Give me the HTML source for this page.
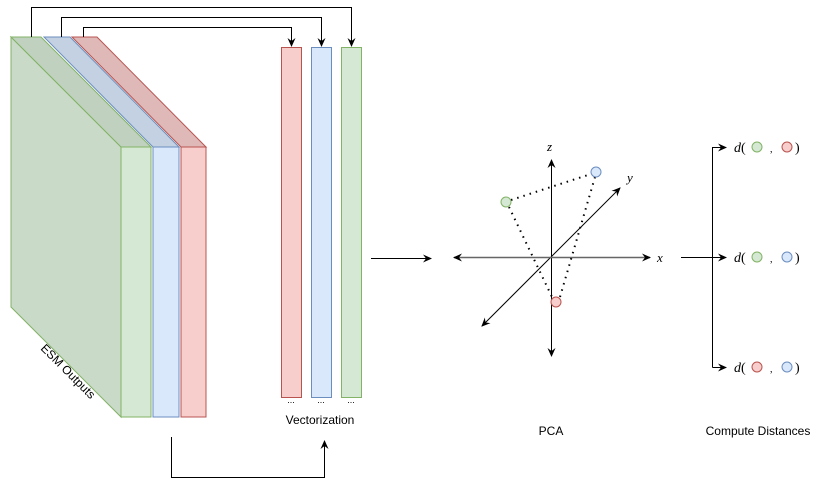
<!DOCTYPE html>
<html><head><style>body{margin:0;background:#fff}svg{display:block}</style></head><body>
<svg width="822" height="486" viewBox="0 0 822 486" xmlns="http://www.w3.org/2000/svg" font-family="Liberation Sans, sans-serif">
<defs><marker id="a" markerWidth="10" markerHeight="10" refX="8" refY="5" orient="auto" markerUnits="userSpaceOnUse"><path d="M0,1 L9,5 L0,9 L3,5 z" fill="#000"/></marker></defs>
<polygon points="72,37 97,37 206,147 181,147" fill="#dfb8b8" stroke="#b85450"/>
<rect x="181" y="147" width="25" height="270" fill="#f8cecc" stroke="#b85450"/>
<polygon points="44,37 70,37 179,147 153,147" fill="#c4d1e2" stroke="#6c8ebf"/>
<rect x="153" y="147" width="26" height="270" fill="#dae8fc" stroke="#6c8ebf"/>
<polygon points="11,37 121,147 121,417 11,307" fill="#c9dac8" stroke="#82b366"/>
<polygon points="11,37 41,37 151,147 121,147" fill="#c0d2bf" stroke="#82b366"/>
<rect x="121" y="147" width="30" height="270" fill="#d5e8d4" stroke="#82b366"/>
<text x="0" y="0" font-size="12" transform="translate(40,349) rotate(45)">ESM Outputs</text>
<rect x="281.5" y="47.5" width="20" height="350" fill="#f8cecc" stroke="#b85450"/>
<rect x="311.5" y="47.5" width="20" height="350" fill="#dae8fc" stroke="#6c8ebf"/>
<rect x="341.5" y="47.5" width="20" height="350" fill="#d5e8d4" stroke="#82b366"/>
<g font-size="9" text-anchor="middle"><text x="291" y="403">...</text><text x="321" y="403">...</text><text x="351" y="403">...</text></g>
<text x="320" y="424" font-size="12" text-anchor="middle">Vectorization</text>
<g fill="none" stroke="#000" stroke-width="1">
<path d="M31.5,37 V7.5 H351.5 V46" marker-end="url(#a)"/>
<path d="M61.5,37 V17.5 H321.5 V46" marker-end="url(#a)"/>
<path d="M83.5,37 V27.5 H291.5 V46" marker-end="url(#a)"/>
<path d="M171.5,437 V477.5 H324.5 V441" marker-end="url(#a)"/>
<path d="M371,258.5 H431" marker-end="url(#a)"/>
<path d="M551.5,257 V160" marker-end="url(#a)"/>
<path d="M551.5,257 V356" marker-end="url(#a)"/>
<path d="M551,257 L620,188" marker-end="url(#a)"/>
<path d="M551,257 L482,326" marker-end="url(#a)"/>
<path d="M551,257.5 H650" stroke="#666" stroke-width="1.5" marker-end="url(#a)"/>
<path d="M551,257.5 H454" stroke="#666" stroke-width="1.5" marker-end="url(#a)"/>
<g stroke-dasharray="1.5,5" stroke-width="2"><path d="M511,200 L591,174"/><path d="M509,207 L552,297"/><path d="M595,177 L560,297"/></g>
<path d="M681,257.5 H726" marker-end="url(#a)"/>
<path d="M712.5,367.5 V147.5 H726" marker-end="url(#a)"/>
<path d="M712.5,367.5 H726" marker-end="url(#a)"/>
</g>
<circle cx="506" cy="202" r="5" fill="#d5e8d4" stroke="#82b366"/>
<circle cx="596" cy="172" r="5" fill="#dae8fc" stroke="#6c8ebf"/>
<circle cx="556" cy="302" r="5" fill="#f8cecc" stroke="#b85450"/>
<g font-family="Liberation Serif, serif" font-style="italic" font-size="13">
<text x="547" y="151">z</text><text x="627" y="182">y</text><text x="657" y="262">x</text>
</g>
<g font-family="Liberation Serif, serif" font-size="14">
<text x="734" y="152"><tspan font-style="italic">d</tspan>(</text>
<text x="734" y="262"><tspan font-style="italic">d</tspan>(</text>
<text x="734" y="372"><tspan font-style="italic">d</tspan>(</text>
<text x="795" y="152">)</text><text x="795" y="262">)</text><text x="795" y="372">)</text>
<text x="770" y="152" font-size="10">,</text><text x="770" y="262" font-size="10">,</text><text x="770" y="372" font-size="10">,</text>
</g>
<circle cx="757" cy="147" r="5" fill="#d5e8d4" stroke="#82b366"/>
<circle cx="787" cy="147" r="5" fill="#f8cecc" stroke="#b85450"/>
<circle cx="757" cy="257" r="5" fill="#d5e8d4" stroke="#82b366"/>
<circle cx="787" cy="257" r="5" fill="#dae8fc" stroke="#6c8ebf"/>
<circle cx="757" cy="367" r="5" fill="#f8cecc" stroke="#b85450"/>
<circle cx="787" cy="367" r="5" fill="#dae8fc" stroke="#6c8ebf"/>
<text x="551" y="435" font-size="12" text-anchor="middle">PCA</text>
<text x="758" y="435" font-size="12" text-anchor="middle">Compute Distances</text>
</svg>
</body></html>
